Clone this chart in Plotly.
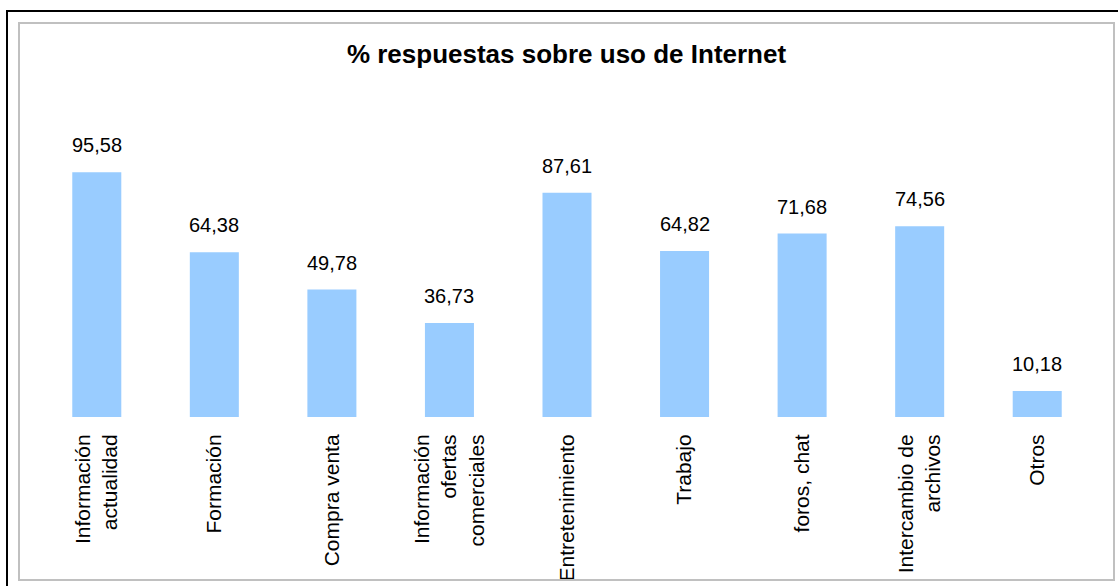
import plotly.graph_objects as go

categories = ["Información<br>actualidad", "Formación", "Compra venta",
              "Información<br>ofertas<br>comerciales", "Entretenimiento", "Trabajo",
              "foros, chat", "Intercambio de<br>archivos", "Otros"]
values = [95.58, 64.38, 49.78, 36.73, 87.61, 64.82, 71.68, 74.56, 10.18]
title_text = "% respuestas sobre uso de Internet"

W, H = 1118, 586
L, R, T, B = 38, 22, 161, 169
PW = W - L - R
PH = H - T - B

def px(x):
    return (x - L) / PW

def py(y):
    return (H - B - y) / PH

FONT = "Liberation Sans, Arial, sans-serif"

fig = go.Figure()
xs = list(range(len(categories)))
fig.add_trace(go.Bar(
    x=xs, y=values, width=0.417,
    marker=dict(color="#99ccff", line=dict(width=0)),
    hoverinfo="skip",
))

for xi, v in zip(xs, values):
    fig.add_annotation(
        x=xi, y=v, xref="x", yref="y",
        text=f"{v:.2f}".replace(".", ","),
        showarrow=False, yanchor="bottom", yshift=14,
        font=dict(family=FONT, size=20, color="#000000"),
    )

shapes = [
    # black outer border (left and top)
    dict(type="line", xref="paper", yref="paper", x0=px(6), x1=px(W + 5), y0=py(11), y1=py(11),
         line=dict(color="#000000", width=2)),
    dict(type="line", xref="paper", yref="paper", x0=px(7), x1=px(7), y0=py(10), y1=py(H + 5),
         line=dict(color="#000000", width=2)),
    # gray chart frame
    dict(type="rect", xref="paper", yref="paper", x0=px(19), x1=px(1114), y0=py(23), y1=py(580),
         line=dict(color="#c0c0c0", width=2), fillcolor="rgba(0,0,0,0)"),
]

fig.update_layout(
    width=W, height=H,
    margin=dict(l=L, r=R, t=T, b=B, pad=0, autoexpand=False),
    paper_bgcolor="#ffffff", plot_bgcolor="#ffffff",
    showlegend=False,
    shapes=shapes,
    title=dict(text=f"<b>{title_text}</b>", x=566.5 / W, xanchor="center",
               y=1 - 54 / H, yanchor="middle", automargin=False,
               font=dict(family=FONT, size=26, color="#000000")),
    xaxis=dict(
        tickmode="array", tickvals=xs, ticktext=categories,
        tickangle=-90, range=[-0.5, len(categories) - 0.5], automargin=False,
        showgrid=False, zeroline=False, showline=False,
        ticks="outside", ticklen=8, tickcolor="rgba(0,0,0,0)",
        tickfont=dict(family=FONT, size=21, color="#000000"),
    ),
    yaxis=dict(range=[0, 100], visible=False, automargin=False),
)

fig.write_html("out.html", config={"displayModeBar": False},
               post_script="document.body.style.margin='0';document.body.style.overflow='hidden';")
